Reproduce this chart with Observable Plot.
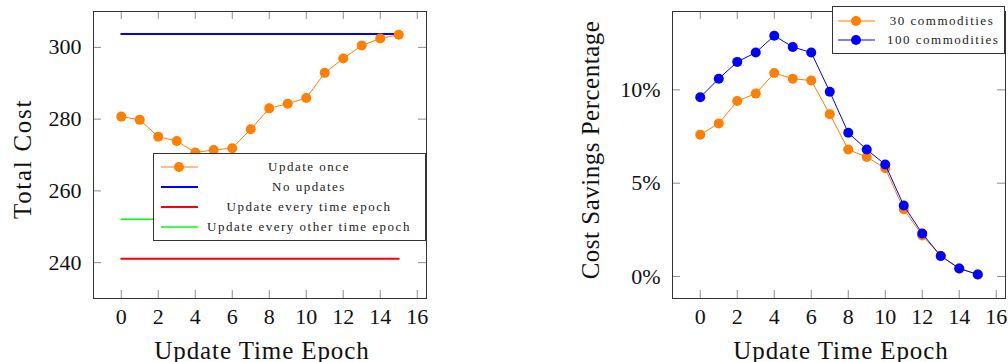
<!DOCTYPE html>
<html><head><meta charset="utf-8">
<script src="https://cdn.jsdelivr.net/npm/d3@7"></script>
<script src="https://cdn.jsdelivr.net/npm/@observablehq/plot@0.6"></script>
<style>
body{margin:0;background:#fff;}
#wrap{position:relative;width:1008px;height:362px;overflow:hidden;font-family:"Liberation Serif",serif;}
.chart{position:absolute;top:0;}
.legend{position:absolute;background:#fff;border:1px solid #333;box-sizing:border-box;font-size:13px;letter-spacing:1.5px;color:#222;}
.row{position:absolute;left:0;height:20px;display:flex;align-items:center;}
.row svg{position:absolute;top:0;}
.row span{position:absolute;text-align:center;white-space:nowrap;line-height:20px;}
</style></head>
<body><div id="wrap"></div>
<script>
// ---------- data ----------
const epochs = [0,1,2,3,4,5,6,7,8,9,10,11,12,13,14,15];
const updateOnceCost = [280.7,279.8,275.1,273.9,270.7,271.4,271.9,277.2,283.0,284.3,285.9,292.9,296.9,300.5,302.5,303.5];
const constEpochs = [0, 15];
const noUpdatesCost = [303.7, 303.7];
const everyEpochCost = [241.1, 241.1];
const everyOtherEpochCost = [252.1, 252.1];
const savings30 = [7.6,8.2,9.4,9.8,10.9,10.6,10.5,8.7,6.8,6.4,5.8,3.6,2.2,1.1,0.43,0.11];
const savings100 = [9.6,10.6,11.5,12.0,12.9,12.3,12.0,9.9,7.7,6.8,6.0,3.8,2.3,1.1,0.43,0.11];
const xTicks = [0,2,4,6,8,10,12,14,16];
const costTicks = [240,260,280,300];
const pctTicks = [0,5,10];
const leftLegend = ["Update once","No updates","Update every time epoch","Update every other time epoch"];
const rightLegend = ["30 commodities","100 commodities"];
const ORANGE = "#ff7f00", BLUE = "#0000ff", RED = "#ff0000", GREEN = "#00ff00";

const FH = 287, FW = 333, TL = 8, TC = "#8c8c8c";
const font = "'Liberation Serif', serif";

function frameMarks(yTicks, fmt, xLabel, yLabel, yLabelDx, yLabelDy) {
  return [
    Plot.tickX(xTicks, {x: d => d, insetTop: FH - TL, stroke: TC}),
    Plot.tickX(xTicks, {x: d => d, insetBottom: FH - TL, stroke: TC}),
    Plot.tickY(yTicks, {y: d => d, insetRight: FW - TL, stroke: TC}),
    Plot.tickY(yTicks, {y: d => d, insetLeft: FW - TL, stroke: TC}),
    Plot.frame({stroke: "#333"}),
    Plot.axisX(xTicks, {tickSize: 0, tickPadding: 10, fontSize: 22, label: null}),
    Plot.axisY(yTicks, {tickSize: 0, tickPadding: 12, fontSize: 22, label: null, tickFormat: fmt}),
    Plot.text([xLabel], {frameAnchor: "bottom", dy: 60, dx: 2, lineAnchor: "bottom", fontSize: 25}),
    Plot.text([yLabel], {frameAnchor: "left", dx: yLabelDx, dy: yLabelDy, rotate: -90, textAnchor: "middle", lineAnchor: "middle", fontSize: 25})
  ];
}

const left = Plot.plot({
  width: 500, height: 362, marginLeft: 93, marginRight: 74, marginTop: 11, marginBottom: 64,
  style: {fontFamily: font, background: "white", color: "#111"},
  x: {domain: [-1.5, 16.5], axis: null},
  y: {domain: [230, 310], axis: null},
  marks: [
    ...frameMarks(costTicks, d => d, "Update Time Epoch", "Total Cost", -71, 4),
    Plot.line(constEpochs, {x: constEpochs, y: noUpdatesCost, stroke: BLUE, strokeWidth: 2}),
    Plot.line(constEpochs, {x: constEpochs, y: everyEpochCost, stroke: RED, strokeWidth: 2}),
    Plot.line(constEpochs, {x: constEpochs, y: everyOtherEpochCost, stroke: GREEN, strokeWidth: 1.6}),
    Plot.line(epochs, {x: epochs, y: updateOnceCost, stroke: ORANGE, strokeWidth: 1}),
    Plot.dot(epochs, {x: epochs, y: updateOnceCost, fill: ORANGE, r: 5})
  ]
});

const right = Plot.plot({
  width: 508, height: 362, marginLeft: 172, marginRight: 3, marginTop: 11, marginBottom: 64,
  style: {fontFamily: font, background: "white", color: "#111"},
  x: {domain: [-1.5, 16.5], axis: null},
  y: {domain: [-1.18, 14.2], axis: null},
  marks: [
    ...frameMarks(pctTicks, d => d + "%", "Update Time Epoch", "Cost Savings Percentage", -82, -5),
    Plot.line(epochs, {x: epochs, y: savings30, stroke: ORANGE, strokeWidth: 1}),
    Plot.dot(epochs, {x: epochs, y: savings30, fill: ORANGE, r: 5}),
    Plot.line(epochs, {x: epochs, y: savings100, stroke: BLUE, strokeWidth: 1}),
    Plot.dot(epochs, {x: epochs, y: savings100, fill: BLUE, r: 5})
  ]
});

const spacing = {"Total Cost": "1.7px", "Update Time Epoch": "0.9px", "Cost Savings Percentage": "0.5px"};
[left, right].forEach(svg => {
  d3.select(svg).selectAll("text").each(function() {
    const s = spacing[this.textContent];
    if (s) this.setAttribute("letter-spacing", s);
  });
});

const wrap = document.getElementById("wrap");
left.classList.add("chart"); left.style.left = "0px";
right.classList.add("chart"); right.style.left = "500px";
wrap.appendChild(left); wrap.appendChild(right);

function legend(box, items, colors, markers, widths, swatchX, textX, textW, rowTop, rowH) {
  const div = document.createElement("div");
  div.className = "legend";
  Object.assign(div.style, {left: box[0] + "px", top: box[1] + "px", width: box[2] + "px", height: box[3] + "px"});
  items.forEach((t, i) => {
    const row = document.createElement("div");
    row.className = "row";
    row.style.top = (rowTop + i * rowH - 10) + "px";
    row.style.width = "100%";
    const m = markers[i] ? `<circle cx="18" cy="10" r="5" fill="${colors[i]}"/>` : "";
    row.innerHTML = `<svg width="37" height="20" style="left:${swatchX}px"><line x1="0" x2="37" y1="10" y2="10" stroke="${colors[i]}" stroke-width="${widths[i]}"/>${m}</svg><span style="left:${textX}px;width:${textW}px">${t}</span>`;
    div.appendChild(row);
  });
  wrap.appendChild(div);
}
legend([153, 153, 273, 88], leftLegend, [ORANGE, BLUE, RED, GREEN], [true, false, false, false], [1, 2, 2, 1.6], 7, 46, 218, 13, 20);
legend([832, 6, 173, 48], rightLegend, [ORANGE, BLUE], [true, true], [1, 1], 5, 54, 110, 13.5, 19.5);
</script>
</body></html>
